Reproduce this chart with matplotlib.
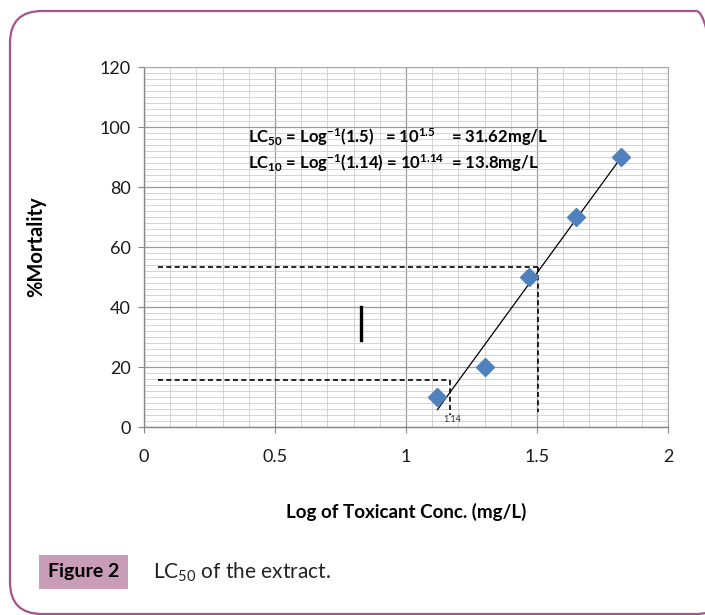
import matplotlib
matplotlib.use("Agg")
import matplotlib.pyplot as plt
import numpy as np
from matplotlib.patches import FancyBboxPatch

plt.rcParams["font.family"] = ["Lato", "DejaVu Sans"]
plt.rcParams["mathtext.default"] = "regular"

# data
log_conc = [1.12, 1.30, 1.47, 1.65, 1.82]
mortality = [10, 20, 50, 70, 90]

x_ticks = [0, 0.5, 1, 1.5, 2]
x_tick_labels = ["0", "0.5", "1", "1.5", "2"]
y_ticks = [0, 20, 40, 60, 80, 100, 120]

# guide lines drawn on the chart (LC50 and LC10 read-offs)
lc50_y, lc50_x = 53.3, 1.505
lc10_y, lc10_x = 15.7, 1.168
guide_start = 0.055

line1 = "LC$_{50}$ = Log$^{-1}$(1.5)   = 10$^{1.5}$    = 31.62mg/L"
line2 = "LC$_{10}$ = Log$^{-1}$(1.14) = 10$^{1.14}$  = 13.8mg/L"

W, H = 705, 615
fig = plt.figure(figsize=(W / 100, H / 100), dpi=100)
ax = fig.add_axes([144 / W, 1 - 427 / H, 524 / W, 360 / H])

ax.set_xlim(0, 2)
ax.set_ylim(0, 120)
ax.set_xticks(x_ticks)
ax.set_xticklabels(x_tick_labels)
ax.set_yticks(y_ticks)
ax.set_xticks(np.arange(0, 2.01, 0.1), minor=True)
ax.set_yticks(np.arange(0, 121, 2), minor=True)
ax.grid(which="minor", color="#cdcdcd", linewidth=0.6)
ax.grid(which="major", color="#9a9a9a", linewidth=0.9)
ax.set_axisbelow(True)
ax.tick_params(which="major", direction="out", length=4.5, color="#868686",
               labelsize=13, labelcolor="#1a1a1a", pad=5)
ax.tick_params(which="minor", length=0)
ax.tick_params(axis="x", pad=11)
for s in ["top", "right"]:
    ax.spines[s].set_color("#a8a8a8")
    ax.spines[s].set_linewidth(0.8)
for s in ["left", "bottom"]:
    ax.spines[s].set_color("#868686")
    ax.spines[s].set_linewidth(1.0)

# trend line
slope, intercept = np.polyfit(log_conc, mortality, 1)
xs = np.array([min(log_conc), max(log_conc)])
ax.plot(xs, slope * xs + intercept, color="black", linewidth=0.9, zorder=3)

ax.plot(log_conc, mortality, linestyle="none", marker="D", markersize=9.5,
        color="#4f81bd", zorder=4)

dash = dict(color="black", linewidth=1.2, linestyle=(0, (3, 2)), zorder=3)
ax.plot([guide_start, lc50_x], [lc50_y, lc50_y], **dash)
ax.plot([lc50_x, lc50_x], [lc50_y, 5], **dash)
ax.plot([guide_start, lc10_x], [lc10_y, lc10_y], **dash)
ax.plot([lc10_x, lc10_x], [lc10_y, 4], **dash)
ax.text(1.142, 2.6, "1.14", fontsize=6.5, color="#333333", va="center")
ax.plot([0.828, 0.828], [29, 40], color="black", linewidth=2.4, zorder=3)

ax.text(0.397, 96.7, line1, fontsize=12, fontweight="bold", va="center")
ax.text(0.397, 88.0, line2, fontsize=12, fontweight="bold", va="center")

ax.set_xlabel("Log of Toxicant Conc. (mg/L)", fontsize=13.5, fontweight="bold")
ax.set_ylabel("%Mortality", fontsize=14.5, fontweight="bold")
ax.xaxis.set_label_coords(0.5, -0.21)
ax.yaxis.set_label_coords(-0.187, 0.5)

# rounded frame round the figure (right side runs off the canvas)
frame = FancyBboxPatch((10 / W, 1 / H), 718 / W, 603 / H,
                       boxstyle="round,pad=0,rounding_size=%f" % (32 / W),
                       mutation_aspect=W / H,
                       transform=fig.transFigure, fill=False,
                       edgecolor="#a8538a", linewidth=1.6)
fig.patches.append(frame)

fig.text(48 / W, 1 - 572 / H, "Figure 2", fontsize=14, fontweight="bold",
         va="center", ha="left",
         bbox=dict(boxstyle="square,pad=0.45", facecolor="#c99cb7",
                   edgecolor="none"))
fig.text(153 / W, 1 - 572 / H, "LC$_{50}$ of the extract.", fontsize=15,
         va="center", ha="left", color="#222222")

fig.savefig("out.png", dpi=100)
